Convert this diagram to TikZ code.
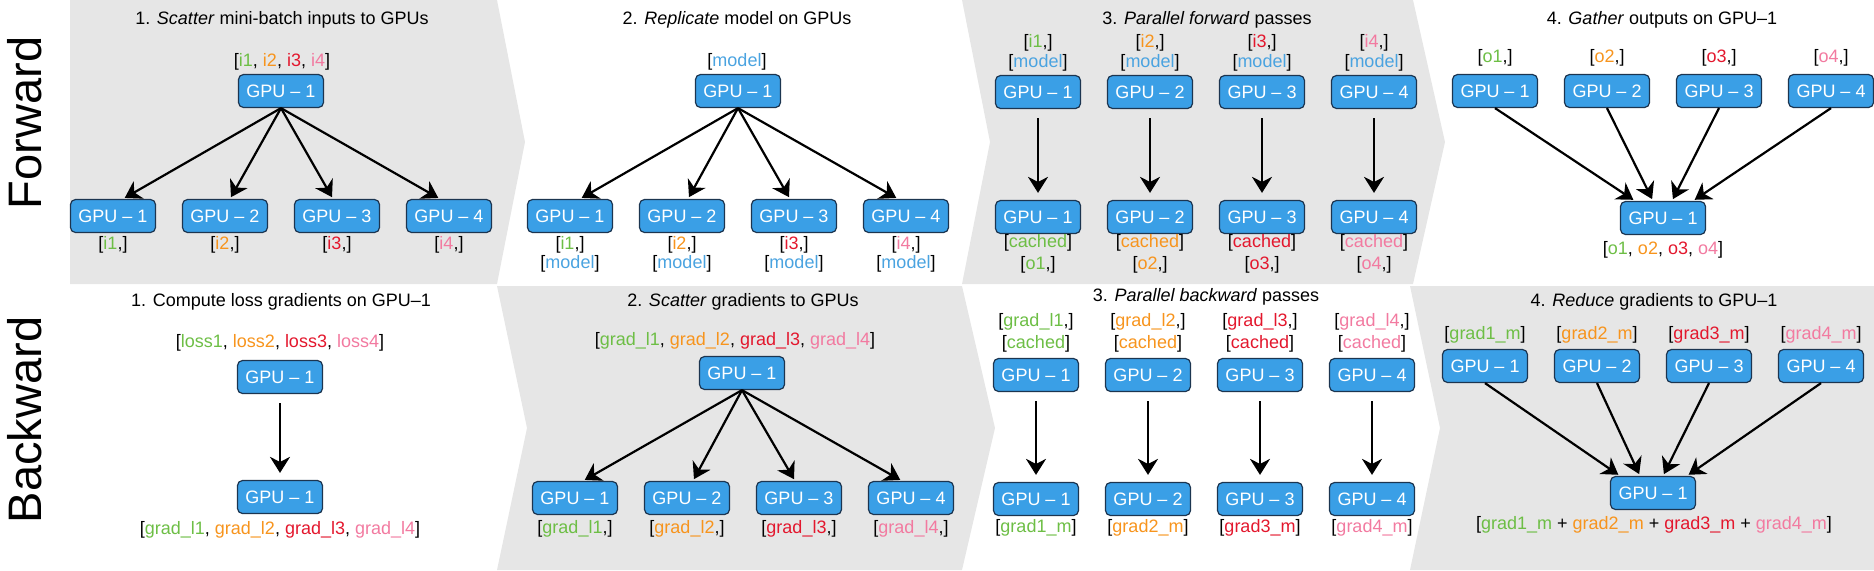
\documentclass[tikz,border=0pt]{standalone}
\usepackage{fontspec}
\setmainfont{Liberation Sans}
\usetikzlibrary{arrows.meta,calc}

\definecolor{bggray}{HTML}{E6E6E6}
\definecolor{gpublue}{HTML}{3A9FE6}
\definecolor{gpuedge}{HTML}{1C3550}
\definecolor{cgreen}{HTML}{6DBE45}
\definecolor{corange}{HTML}{F7941D}
\definecolor{cred}{HTML}{E3172D}
\definecolor{cpink}{HTML}{F27AA0}
\definecolor{cblue}{HTML}{4AA3E0}

\newcommand{\tgreen}[1]{\textcolor{cgreen}{#1}}
\newcommand{\torange}[1]{\textcolor{corange}{#1}}
\newcommand{\tred}[1]{\textcolor{cred}{#1}}
\newcommand{\tpink}[1]{\textcolor{cpink}{#1}}
\newcommand{\tblue}[1]{\textcolor{cblue}{#1}}

\tikzset{
  gpu/.style={draw=gpuedge, line width=0.6pt, fill=gpublue, rounded corners=2.5pt,
    minimum width=42.5pt, minimum height=16.5pt, inner sep=0pt, text=white,
    font=\fontsize{9}{11}\selectfont},
  lbl/.style={inner sep=0pt, font=\fontsize{9}{11}\selectfont},
  ttl/.style={inner sep=0pt, font=\fontsize{9}{11}\selectfont},
  side/.style={inner sep=0pt, rotate=90, font=\fontsize{23.5}{28}\selectfont},
  flow/.style={line width=1.1pt, shorten >=1pt,
    -{Stealth[length=8pt,width=10pt,inset=2.5pt]}},
  down/.style={flow, shorten <=4.5pt, shorten >=3.5pt},
}

\begin{document}
\begin{tikzpicture}[x=0.5pt, y=-0.5pt]
  \useasboundingbox (0,0) rectangle (1874,570);

  % grey chevrons behind the steps
  \fill[bggray] (70,0) -- (497,0) -- (525,142) -- (497,284) -- (70,284) -- cycle;
  \fill[bggray] (962,0) -- (1413,0) -- (1445,142) -- (1413,284) -- (962,284)
    -- (990,142) -- cycle;
  \fill[bggray] (497,286) -- (962,286) -- (995,428) -- (962,570) -- (497,570)
    -- (527,428) -- cycle;
  \fill[bggray] (1410,286) -- (1874,286) -- (1874,570) -- (1410,570)
    -- (1440,428) -- cycle;

  \node[side] (fwd) at ({25}, 123) {Forward};
  \node[side] (bwd) at ({25}, 420) {Backward};

  %% forward pass

  \node[ttl] (fta) at ({282}, 20) {1. \textit{Scatter} mini-batch inputs to GPUs};
  \node[lbl] (fin) at ({282}, 62) {[\tgreen{i1}, \torange{i2}, \tred{i3}, \tpink{i4}]};
  \node[gpu] (fa0) at ({281}, 91) {GPU -- 1};
  \foreach \i/\x/\c/\d in
    {
        1/113/cgreen/10, 2/225/corange/5, 3/337/cred/-4, 4/449/cpink/-9
    }
    {
        \node[gpu] (fa\i) at ({\x}, 216) {GPU -- \i};
        \node[lbl] (fal\i) at ({\x}, 245) {[\textcolor{\c}{i\i},]};
        \draw[flow] (fa0.south) -- ($(fa\i.north)+(\d,0)$);
    }

  \node[ttl] (ftb) at ({737}, 20) {2. \textit{Replicate} model on GPUs};
  \node[lbl] (fmd) at ({737}, 62) {[\tblue{model}]};
  \node[gpu] (fb0) at ({738}, 91) {GPU -- 1};
  \foreach \i/\x/\c/\d in
    {
        1/570/cgreen/10, 2/682/corange/6, 3/794/cred/-4, 4/906/cpink/-8
    }
    {
        \node[gpu] (fb\i) at ({\x}, 216) {GPU -- \i};
        \node[lbl] (fbl\i) at ({\x}, 245) {[\textcolor{\c}{i\i},]};
        \node[lbl] (fbm\i) at ({\x}, 264) {[\tblue{model}]};
        \draw[flow] (fb0.south) -- ($(fb\i.north)+(\d,0)$);
    }

  \node[ttl] (ftc) at ({1207}, 20) {3. \textit{Parallel forward} passes};
  \foreach \i/\c/\x in
    {
        1/cgreen/1038, 2/corange/1150, 3/cred/1262, 4/cpink/1374
    }
    {
        \node[lbl] (fcl\i) at ({\x}, 43) {[\textcolor{\c}{i\i},]};
        \node[lbl] (fcm\i) at ({\x}, 63) {[\tblue{model}]};
        \node[gpu] (fc\i) at ({\x}, 92) {GPU -- \i};
        \node[gpu] (fd\i) at ({\x}, 217) {GPU -- \i};
        \node[lbl] (fdc\i) at ({\x}, 243) {[\textcolor{\c}{cached}]};
        \node[lbl] (fdo\i) at ({\x}, 265) {[\textcolor{\c}{o\i},]};
        \draw[down] (fc\i) -- (fd\i);
    }

  \node[ttl] (ftd) at ({1662}, 20) {4. \textit{Gather} outputs on GPU--1};
  \node[gpu] (fe0) at ({1663}, 218) {GPU -- 1};
  \node[lbl] (fout) at ({1663}, 250) {[\tgreen{o1}, \torange{o2}, \tred{o3}, \tpink{o4}]};
  \foreach \i/\x/\c/\d in
    {
        1/1495/cgreen/-28, 2/1607/corange/-10, 3/1719/cred/9, 4/1831/cpink/30
    }
    {
        \node[lbl] (fel\i) at ({\x}, 58) {[\textcolor{\c}{o\i},]};
        \node[gpu] (fe\i) at ({\x}, 91) {GPU -- \i};
        \draw[flow] (fe\i.south) -- ($(fe0.north)+(\d,0)$);
    }

  %% backward pass

  \node[ttl] (bta) at ({281}, 302) {1. Compute loss gradients on GPU--1};
  \node[lbl] (bls) at ({280}, 343)
    {[\tgreen{loss1}, \torange{loss2}, \tred{loss3}, \tpink{loss4}]};
  \node[gpu] (ba0) at ({280}, 377) {GPU -- 1};
  \node[gpu] (ba1) at ({280}, 497) {GPU -- 1};
  \node[lbl] (bgl) at ({280}, 530)
    {[\tgreen{grad\_l1}, \torange{grad\_l2}, \tred{grad\_l3}, \tpink{grad\_l4}]};
  \draw[down] (ba0) -- (ba1);

  \node[ttl] (btb) at ({743}, 302) {2. \textit{Scatter} gradients to GPUs};
  \node[lbl] (bgs) at ({735}, 341)
    {[\tgreen{grad\_l1}, \torange{grad\_l2}, \tred{grad\_l3}, \tpink{grad\_l4}]};
  \node[gpu] (bb0) at ({742}, 373) {GPU -- 1};
  \foreach \i/\x/\c/\d in
    {
        1/575/cgreen/8, 2/687/corange/6, 3/799/cred/-4, 4/911/cpink/-9
    }
    {
        \node[gpu] (bb\i) at ({\x}, 498) {GPU -- \i};
        \node[lbl] (bbl\i) at ({\x}, 529) {[\textcolor{\c}{grad\_l\i},]};
        \draw[flow] (bb0.south) -- ($(bb\i.north)+(\d,0)$);
    }

  \node[ttl] (btc) at ({1206}, 297) {3. \textit{Parallel backward} passes};
  \foreach \i/\c/\x in
    {
        1/cgreen/1036, 2/corange/1148, 3/cred/1260, 4/cpink/1372
    }
    {
        \node[lbl] (bcl\i) at ({\x}, 322) {[\textcolor{\c}{grad\_l\i},]};
        \node[lbl] (bcc\i) at ({\x}, 344) {[\textcolor{\c}{cached}]};
        \node[gpu] (bc\i) at ({\x}, 375) {GPU -- \i};
        \node[gpu] (bd\i) at ({\x}, 499) {GPU -- \i};
        \node[lbl] (bdm\i) at ({\x}, 528) {[\textcolor{\c}{grad\i\_m}]};
        \draw[down] (bc\i) -- (bd\i);
    }

  \node[ttl] (btd) at ({1654}, 302) {4. \textit{Reduce} gradients to GPU--1};
  \node[gpu] (be0) at ({1653}, 493) {GPU -- 1};
  \node[lbl] (bsum) at ({1654}, 525)
    {[\tgreen{grad1\_m} + \torange{grad2\_m} + \tred{grad3\_m} + \tpink{grad4\_m}]};
  \foreach \i/\x/\c/\d in
    {
        1/1485/cgreen/-33, 2/1597/corange/-13, 3/1709/cred/10, 4/1821/cpink/34
    }
    {
        \node[lbl] (bel\i) at ({\x}, 335) {[\textcolor{\c}{grad\i\_m}]};
        \node[gpu] (be\i) at ({\x}, 366) {GPU -- \i};
        \draw[flow] (be\i.south) -- ($(be0.north)+(\d,0)$);
    }

\end{tikzpicture}
\end{document}
